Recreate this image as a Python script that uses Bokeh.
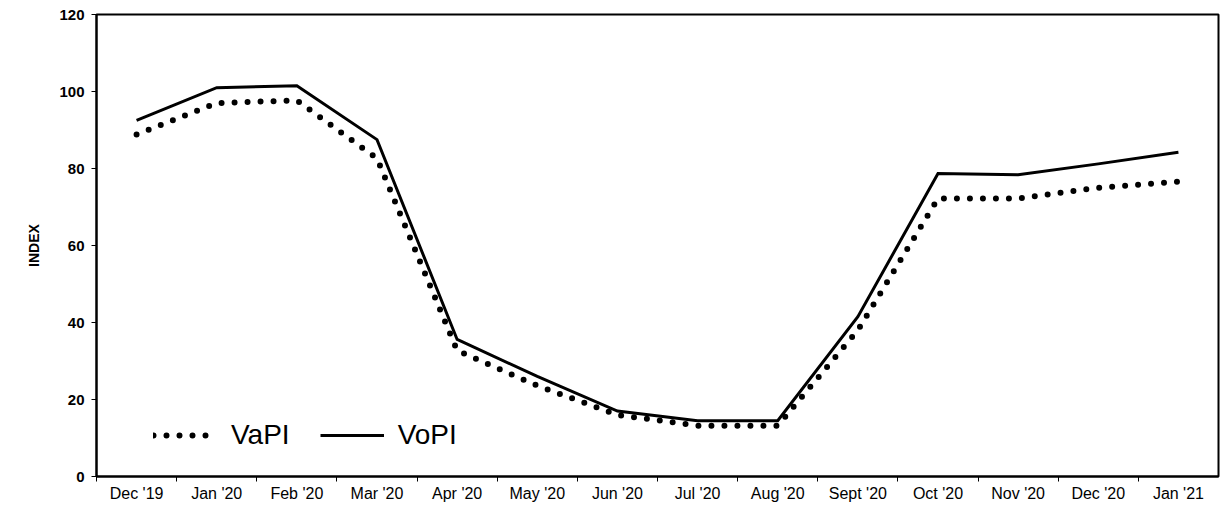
from bokeh.plotting import figure
from bokeh.models import Range1d, FixedTicker, Legend, LegendItem
from bokeh.embed import file_html
from bokeh.resources import INLINE

months = ["Dec '19", "Jan '20", "Feb '20", "Mar '20", "Apr '20", "May '20", "Jun '20",
          "Jul '20", "Aug '20", "Sept '20", "Oct '20", "Nov '20", "Dec '20", "Jan '21"]
vapi = [88.8, 97.0, 97.7, 82.6, 32.7, 23.6, 16.0, 13.2, 13.2, 38.0, 72.2, 72.2, 75.0, 76.6]
vopi = [92.5, 101.0, 101.5, 87.5, 35.6, 26.0, 17.0, 14.5, 14.5, 41.5, 78.7, 78.4, 81.2, 84.2]
y_ticks = [0, 20, 40, 60, 80, 100, 120]

xs = list(range(len(months)))

p = figure(frame_width=1122, frame_height=462, output_backend="svg", toolbar_location=None,
           x_range=Range1d(-0.5, len(months) - 0.5), y_range=Range1d(0, 120),
           min_border_left=96, min_border_top=14, min_border_right=4, min_border_bottom=26)

p.background_fill_color = "white"
p.border_fill_color = "white"
p.outline_line_color = "black"
p.outline_line_width = 2
p.xgrid.visible = False
p.ygrid.visible = False

r1 = p.line(xs, vapi, line_color="black", line_width=6, line_dash="0 13", line_cap="round")
r2 = p.line(xs, vopi, line_color="black", line_width=3, line_join="miter")

# x axis: labels at centres, tick marks at category boundaries
xa = p.xaxis[0]
xa.ticker = FixedTicker(ticks=xs, minor_ticks=[i + 0.5 for i in xs[:-1]] + [-0.5])
xa.major_label_overrides = {i: m for i, m in zip(xs, months)}
xa.major_tick_out = 0
xa.major_tick_in = 0
xa.minor_tick_out = 5
xa.minor_tick_in = 0
xa.minor_tick_line_color = "black"
xa.minor_tick_line_width = 1
xa.axis_line_color = "black"
xa.axis_line_width = 2
xa.major_label_text_font = "Liberation Sans"
xa.major_label_text_font_size = "16px"
xa.major_label_text_color = "black"
xa.major_label_standoff = 3

ya = p.yaxis[0]
ya.ticker = FixedTicker(ticks=y_ticks, minor_ticks=[])
ya.major_tick_out = 5
ya.major_tick_in = 0
ya.major_tick_line_color = "black"
ya.axis_line_color = "black"
ya.axis_line_width = 2
ya.major_label_text_font = "Liberation Sans"
ya.major_label_text_font_style = "bold"
ya.major_label_text_font_size = "15px"
ya.major_label_text_color = "black"
ya.major_label_standoff = 7
ya.axis_label = "INDEX"
ya.axis_label_text_font = "Liberation Sans"
ya.axis_label_text_font_style = "bold"
ya.axis_label_text_font_size = "14px"
ya.axis_label_text_color = "black"
ya.axis_label_standoff = 14

legend = Legend(items=[LegendItem(label="VaPI", renderers=[r1]),
                       LegendItem(label="VoPI", renderers=[r2])],
                orientation="horizontal", location=(57, 25),
                label_text_font="Liberation Sans", label_text_font_size="28px",
                label_text_color="black", glyph_width=64, glyph_height=20,
                label_standoff=14, spacing=30, border_line_color=None,
                background_fill_alpha=0)
p.add_layout(legend, "center")

open("out.html", "w").write(file_html(p, INLINE))
